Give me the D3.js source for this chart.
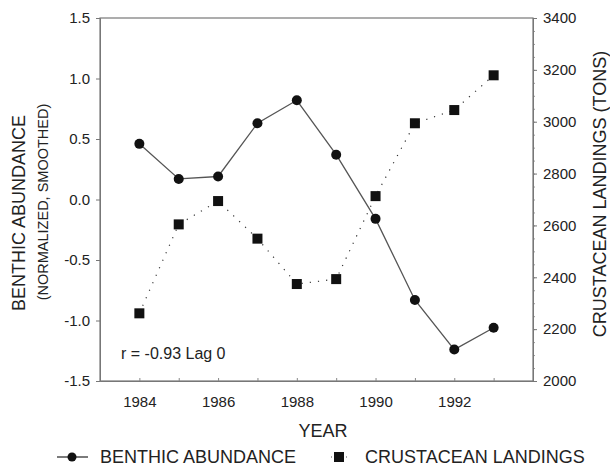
<!DOCTYPE html>
<html lang="en">
<head>
    <meta charset="UTF-8">
    <title>benthic-crustacean</title>
    <script src="https://cdn.jsdelivr.net/npm/d3@7"></script>
    <style>
        body { margin: 0; background: #fff; }
        text { font-family: "Liberation Sans", Arial, sans-serif; fill: #222; }
    </style>
</head>
<body>
    <svg class="chart"></svg>
</body>
<script>
    // data
    var years = [1984, 1985, 1986, 1987, 1988, 1989, 1990, 1991, 1992, 1993];
    var benthic = [0.46, 0.17, 0.19, 0.63, 0.82, 0.37, -0.16, -0.83, -1.24, -1.06];
    var landings = [2261, 2604, 2694, 2549, 2374, 2393, 2713, 2994, 3045, 3179];
    var xTickYears = [1984, 1986, 1988, 1990, 1992];
    var leftTicks = [1.5, 1.0, 0.5, 0.0, -0.5, -1.0, -1.5];
    var rightTicks = [2000, 2200, 2400, 2600, 2800, 3000, 3200, 3400];

    var width = 610, height = 466;
    // plot box edges (note: "top" is reserved on window)
    var pLeft = 100, pRight = 533, pTop = 18, pBottom = 381;

    var svg = d3.select('.chart')
        .attr('width', width)
        .attr('height', height);

    var x = d3.scaleLinear().domain([1983, 1994]).range([pLeft, pRight]);
    var yL = d3.scaleLinear().domain([-1.5, 1.5]).range([pBottom, pTop]);
    var yR = d3.scaleLinear().domain([2000, 3400]).range([pBottom, pTop]);

    // plain hyphen minus like the original
    var fmt1 = function (d) { return d.toFixed(1); };

    // frame
    svg.append('rect')
        .attr('x', pLeft).attr('y', pTop)
        .attr('width', pRight - pLeft).attr('height', pBottom - pTop)
        .attr('fill', 'none').attr('stroke', '#777').attr('stroke-width', 1.2);

    // left axis
    var gl = svg.append('g')
        .attr('transform', 'translate(' + pLeft + ',0)')
        .call(d3.axisLeft(yL).tickValues(leftTicks).tickSize(4).tickPadding(6)
            .tickFormat(fmt1));
    gl.select('.domain').attr('stroke', '#777');
    gl.selectAll('line').attr('stroke', '#777');
    gl.selectAll('text').attr('font-size', 15).attr('fill', '#222');

    // right axis with minor ticks
    var gr2 = svg.append('g')
        .attr('transform', 'translate(' + pRight + ',0)')
        .call(d3.axisRight(yR).tickValues(d3.range(2000, 3401, 50)).tickSize(2).tickFormat(''));
    gr2.select('.domain').remove();
    gr2.selectAll('line').attr('stroke', '#999');
    var gr = svg.append('g')
        .attr('transform', 'translate(' + pRight + ',0)')
        .call(d3.axisRight(yR).tickValues(rightTicks).tickSize(4).tickPadding(6)
            .tickFormat(d3.format('d')));
    gr.select('.domain').attr('stroke', '#777');
    gr.selectAll('line').attr('stroke', '#777');
    gr.selectAll('text').attr('font-size', 15).attr('fill', '#222');

    // bottom axis: tiny inward ticks every year, labels every 2 years
    var gbm = svg.append('g')
        .attr('transform', 'translate(0,' + pBottom + ')')
        .call(d3.axisBottom(x).tickValues(d3.range(1984, 1994)).tickSize(-3).tickFormat(''));
    gbm.select('.domain').remove();
    gbm.selectAll('line').attr('stroke', '#888');
    var gb = svg.append('g')
        .attr('transform', 'translate(0,' + pBottom + ')')
        .call(d3.axisBottom(x).tickValues(xTickYears).tickSize(0).tickPadding(15)
            .tickFormat(d3.format('d')));
    gb.select('.domain').attr('stroke', '#777');
    gb.selectAll('text').attr('font-size', 15).attr('fill', '#222');

    // axis titles
    svg.append('text')
        .attr('transform', 'translate(25,213) rotate(-90)')
        .attr('text-anchor', 'middle')
        .attr('font-size', 18)
        .text('BENTHIC ABUNDANCE');
    svg.append('text')
        .attr('transform', 'translate(48,202) rotate(-90)')
        .attr('text-anchor', 'middle')
        .attr('font-size', 14.5)
        .text('(NORMALIZED, SMOOTHED)');
    svg.append('text')
        .attr('transform', 'translate(606,194) rotate(-90)')
        .attr('text-anchor', 'middle')
        .attr('font-size', 18)
        .text('CRUSTACEAN LANDINGS (TONS)');
    svg.append('text')
        .attr('x', 323).attr('y', 437)
        .attr('text-anchor', 'middle')
        .attr('font-size', 18)
        .text('YEAR');

    // annotation
    svg.append('text')
        .attr('x', 121).attr('y', 359)
        .attr('font-size', 16)
        .text('r = -0.93 Lag 0');

    // crustacean landings: dotted line + squares
    var lineR = d3.line()
        .x(function (d, i) { return x(years[i]); })
        .y(function (d) { return yR(d); });
    svg.append('path')
        .datum(landings)
        .attr('d', lineR)
        .attr('fill', 'none')
        .attr('stroke', '#333')
        .attr('stroke-width', 1.2)
        .attr('stroke-dasharray', '1.2,7');
    svg.selectAll('.sq')
        .data(landings)
        .enter()
        .append('rect')
        .attr('class', 'sq')
        .attr('x', function (d, i) { return x(years[i]) - 5; })
        .attr('y', function (d) { return yR(d) - 5; })
        .attr('width', 10).attr('height', 10)
        .attr('fill', '#111');

    // benthic abundance: solid line + circles
    var lineL = d3.line()
        .x(function (d, i) { return x(years[i]); })
        .y(function (d) { return yL(d); });
    svg.append('path')
        .datum(benthic)
        .attr('d', lineL)
        .attr('fill', 'none')
        .attr('stroke', '#555')
        .attr('stroke-width', 1.3);
    svg.selectAll('.dot')
        .data(benthic)
        .enter()
        .append('circle')
        .attr('class', 'dot')
        .attr('cx', function (d, i) { return x(years[i]); })
        .attr('cy', function (d) { return yL(d); })
        .attr('r', 5)
        .attr('fill', '#111');

    // legend
    var lg = svg.append('g');
    lg.append('line')
        .attr('x1', 57).attr('x2', 88).attr('y1', 457).attr('y2', 457)
        .attr('stroke', '#333').attr('stroke-width', 1.3);
    lg.append('circle')
        .attr('cx', 72).attr('cy', 457).attr('r', 4.5).attr('fill', '#111');
    lg.append('text')
        .attr('x', 100).attr('y', 463)
        .attr('font-size', 18)
        .text('BENTHIC ABUNDANCE');
    lg.append('line')
        .attr('x1', 331).attr('x2', 348).attr('y1', 457).attr('y2', 457)
        .attr('stroke', '#555').attr('stroke-width', 1)
        .attr('stroke-dasharray', '1,4');
    lg.append('rect')
        .attr('x', 334).attr('y', 452).attr('width', 10).attr('height', 10)
        .attr('fill', '#111');
    lg.append('text')
        .attr('x', 365).attr('y', 463)
        .attr('font-size', 18)
        .text('CRUSTACEAN LANDINGS');
</script>
</html>
